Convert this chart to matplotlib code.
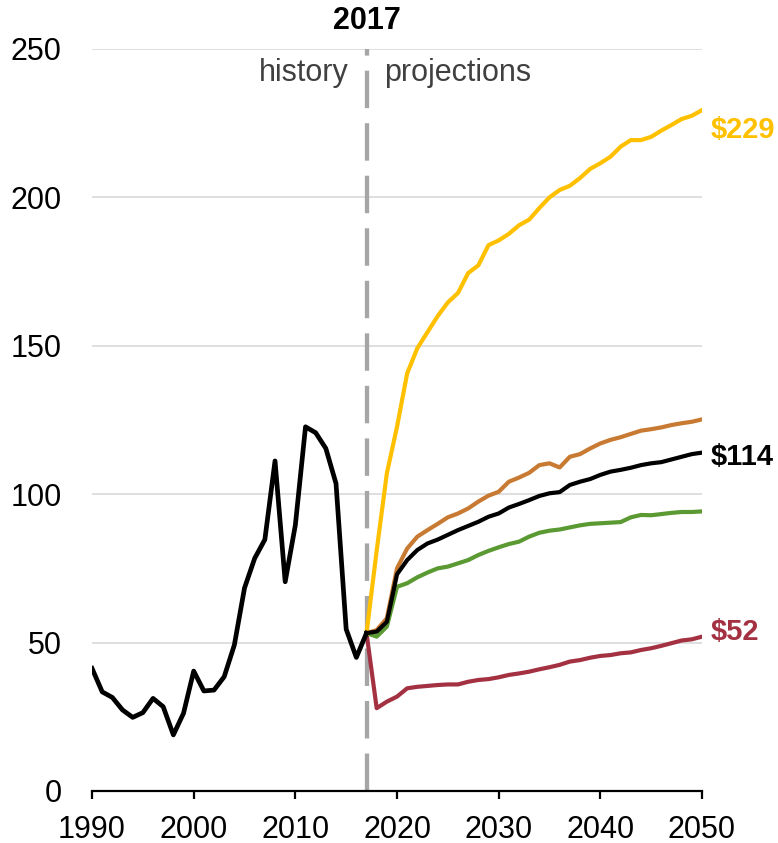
import matplotlib.pyplot as plt

plt.rcParams["font.family"] = ["Liberation Sans", "DejaVu Sans"]

# history, 1990-2017 (Brent spot, 2017 $/barrel)
hist_years = list(range(1990, 2018))
hist_price = [41.3, 33.4, 31.5, 27.3, 24.8, 26.4, 31.2, 28.4, 18.9, 26.2,
              40.4, 33.7, 34.0, 38.5, 49.2, 68.4, 78.4, 84.7, 111.2, 70.5,
              89.6, 122.7, 120.7, 115.4, 103.6, 54.5, 45.0, 53.2]

# projections, 2017-2050
proj_years = list(range(2017, 2051))
reference = [53.2, 53.7, 57.0, 73.0, 77.8, 81.2, 83.4, 84.7, 86.3, 87.9,
             89.3, 90.7, 92.4, 93.5, 95.5, 96.7, 98.0, 99.4, 100.3, 100.7,
             103.1, 104.2, 105.1, 106.5, 107.6, 108.2, 108.9, 109.8, 110.4, 110.8,
             111.7, 112.6, 113.5, 114.0]
high_price = [53.2, 81.0, 107.0, 122.7, 140.7, 149.2, 154.6, 160.0, 164.6, 167.8,
              174.5, 177.1, 183.9, 185.5, 187.7, 190.6, 192.5, 196.4, 200.0, 202.5,
              203.9, 206.5, 209.6, 211.5, 213.7, 217.1, 219.3, 219.3, 220.4, 222.5,
              224.4, 226.4, 227.5, 229.4]
low_supply = [53.2, 54.2, 58.2, 75.0, 81.7, 85.7, 87.9, 90.0, 92.2, 93.5,
              95.2, 97.5, 99.5, 100.8, 104.2, 105.6, 107.2, 109.8, 110.4, 109.0,
              112.6, 113.5, 115.4, 117.1, 118.3, 119.2, 120.3, 121.4, 121.9, 122.5,
              123.3, 123.9, 124.4, 125.2]
high_supply = [53.2, 52.0, 55.4, 68.8, 70.0, 72.0, 73.6, 75.0, 75.6, 76.7,
               77.8, 79.5, 80.9, 82.1, 83.2, 84.0, 85.7, 87.0, 87.7, 88.1,
               88.8, 89.5, 90.0, 90.2, 90.4, 90.6, 92.2, 93.0, 92.9, 93.3,
               93.7, 94.0, 94.0, 94.2]
low_price = [53.2, 27.9, 30.1, 31.8, 34.6, 35.1, 35.4, 35.7, 35.9, 35.9,
             36.8, 37.4, 37.7, 38.3, 39.1, 39.6, 40.2, 41.0, 41.7, 42.5,
             43.6, 44.1, 44.9, 45.5, 45.8, 46.4, 46.7, 47.5, 48.1, 48.9,
             49.8, 50.7, 51.1, 52.0]

end_labels = ["$229", "$114", "$52"]

c_yellow = "#FFC000"
c_orange = "#C87A32"
c_green = "#5B9A32"
c_red = "#A33142"
c_black = "#000000"

fig = plt.figure(figsize=(7.78, 8.43), dpi=100)
ax = fig.add_axes([0.1183, 0.0617, 0.7840, 0.8802])

lw = 3.0
ax.plot(proj_years, low_price, color=c_red, lw=lw, zorder=3)
ax.plot(proj_years, high_supply, color=c_green, lw=lw, zorder=3)
ax.plot(proj_years, low_supply, color=c_orange, lw=lw, zorder=3)
ax.plot(proj_years, high_price, color=c_yellow, lw=lw, zorder=3)
ax.plot(proj_years, reference, color=c_black, lw=lw, zorder=4)
ax.plot(hist_years, hist_price, color=c_black, lw=3.4, zorder=4)

# history / projections divider
ax.plot([2017, 2017], [0, 250], color="#A6A6A6", lw=3.1,
        linestyle=(0, (8.7, 3.5)), zorder=2, clip_on=False)

ax.set_xlim(1990, 2050)
ax.set_ylim(0, 250)
ax.set_xticks(range(1990, 2051, 10))
ax.set_yticks(range(0, 251, 50))

ax.grid(axis="y", color="#D9D9D9", lw=1.2)
ax.set_axisbelow(True)
for side in ["left", "right", "top"]:
    ax.spines[side].set_visible(False)
ax.spines["bottom"].set_linewidth(1.6)
ax.tick_params(axis="x", length=6, width=1.6, pad=11, labelsize=22)
ax.tick_params(axis="y", length=0, pad=22, labelsize=22)

ax.annotate("2017", xy=(2017, 250), xytext=(0, 20), textcoords="offset points",
            ha="center", va="center", fontsize=22, fontweight="bold")
ax.annotate("history", xy=(2017, 250), xytext=(-13, -23), textcoords="offset points",
            ha="right", va="baseline", fontsize=22, color="#404040")
ax.annotate("projections", xy=(2017, 250), xytext=(13, -23), textcoords="offset points",
            ha="left", va="baseline", fontsize=22, color="#404040")

label_vals = [high_price[-1], reference[-1], low_price[-1]]
label_cols = [c_yellow, c_black, c_red]
label_dy = [-14, -3, 3]
for txt, val, col, dy in zip(end_labels, label_vals, label_cols, label_dy):
    ax.annotate(txt, xy=(2050, val), xytext=(6, dy), textcoords="offset points",
                ha="left", va="center", fontsize=21, fontweight="bold",
                color=col, annotation_clip=False)

fig.savefig("out.png", dpi=100)
